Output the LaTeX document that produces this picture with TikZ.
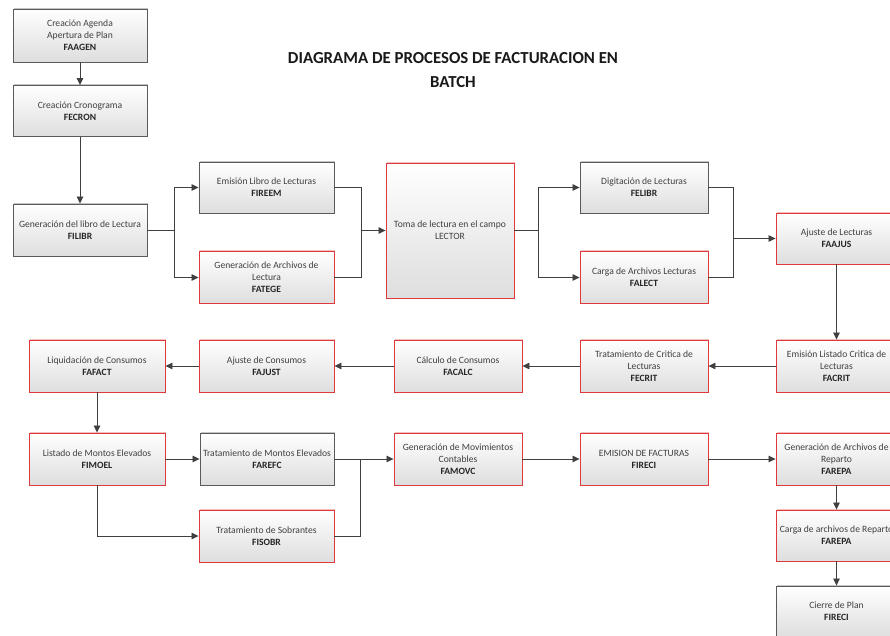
\documentclass[tikz,border=0pt]{standalone}
\usepackage{fontspec}
\setmainfont{Carlito}
\usetikzlibrary{arrows.meta,shadows}
\definecolor{boxgray}{HTML}{5A5A5A}
\definecolor{boxred}{HTML}{E0393C}
\definecolor{txtgray}{HTML}{404040}
\definecolor{linegray}{HTML}{404040}
\tikzset{
  procbox/.style={rectangle, draw, line width=0.9pt, inner sep=1pt,
    top color=white, bottom color=black!13,
    align=center, text=txtgray,
    font=\fontsize{9.6}{12}\selectfont},
  graybox/.style={procbox, draw=boxgray,
    drop shadow={shadow xshift=1.4pt, shadow yshift=1.4pt, fill=black!45, opacity=0.5}},
  redbox/.style={procbox, draw=boxred,
    drop shadow={shadow xshift=1.4pt, shadow yshift=1.4pt, fill=boxred!60, opacity=0.55}},
  link/.style={draw=linegray, line width=0.8pt},
  arr/.style={link, -{Triangle[length=7pt,width=6.5pt]}},
}
\newcommand{\code}[1]{\textbf{\color{black!85}#1}}
\begin{document}
\begin{tikzpicture}[x=1pt,y=-1pt]
\useasboundingbox (0,0) rectangle (890,635);
\clip (0,0) rectangle (890,635);
\fill[white] (0,0) rectangle (890,635);

% title
\node[font=\bfseries\fontsize{16.8}{24}\selectfont, text=black!90, align=center]
  (title) at (453,70) {DIAGRAMA DE PROCESOS DE FACTURACION EN\\BATCH};

% left column: planning
\node[graybox, minimum width=134, minimum height=53] (faagen) at (80,35.5)
  {Creación Agenda\\Apertura de Plan\\\code{FAAGEN}};
\node[graybox, minimum width=134, minimum height=51] (fecron) at (80,111)
  {Creación Cronograma\\\code{FECRON}};
\node[graybox, minimum width=134, minimum height=52] (filibr) at (80,230)
  {Generación del libro de Lectura\\\code{FILIBR}};

% reading stage
\node[graybox, minimum width=135, minimum height=51] (fireem) at (266.5,187.5)
  {Emisión Libro de Lecturas\\\code{FIREEM}};
\node[redbox, minimum width=135, minimum height=52] (fatege) at (266.5,277.5)
  {Generación de Archivos de\\Lectura\\\code{FATEGE}};
\node[redbox, minimum width=128, minimum height=135] (lector) at (450,230.5)
  {Toma de lectura en el campo\\LECTOR};
\node[graybox, minimum width=128, minimum height=51] (felibr) at (644,187.5)
  {Digitación de Lecturas\\\code{FELIBR}};
\node[redbox, minimum width=128, minimum height=52] (falect) at (644,277.5)
  {Carga de Archivos Lecturas\\\code{FALECT}};
\node[redbox, minimum width=121, minimum height=51] (faajus) at (836.5,238.5)
  {Ajuste de Lecturas\\\code{FAAJUS}};

% consumption row
\node[redbox, minimum width=136, minimum height=52] (fafact) at (97,366)
  {Liquidación de Consumos\\\code{FAFACT}};
\node[redbox, minimum width=135, minimum height=52] (fajust) at (266.5,366)
  {Ajuste de Consumos\\\code{FAJUST}};
\node[redbox, minimum width=128, minimum height=52] (facalc) at (458,366)
  {Cálculo de Consumos\\\code{FACALC}};
\node[redbox, minimum width=128, minimum height=52] (fecrit) at (644,366)
  {Tratamiento de Critica de\\Lecturas\\\code{FECRIT}};
\node[redbox, minimum width=121, minimum height=52] (facrit) at (836.5,366)
  {Emisión Listado Critica de\\Lecturas\\\code{FACRIT}};

% billing row
\node[redbox, minimum width=136, minimum height=52] (fimoel) at (97,459)
  {Listado de Montos Elevados\\\code{FIMOEL}};
\node[graybox, minimum width=134, minimum height=52] (farefc) at (267,459)
  {Tratamiento de Montos Elevados\\\code{FAREFC}};
\node[redbox, minimum width=135, minimum height=52] (fisobr) at (266.5,536)
  {Tratamiento de Sobrantes\\\code{FISOBR}};
\node[redbox, minimum width=128, minimum height=52] (famovc) at (458,459)
  {Generación de Movimientos\\Contables\\\code{FAMOVC}};
\node[redbox, minimum width=128, minimum height=52] (fireci) at (644,459)
  {EMISION DE FACTURAS\\\code{FIRECI}};
\node[redbox, minimum width=121, minimum height=52] (farepa) at (836.5,459)
  {Generación de Archivos de\\Reparto\\\code{FAREPA}};
\node[redbox, minimum width=121, minimum height=51] (cargarep) at (836.5,535.5)
  {Carga de archivos de Reparto\\\code{FAREPA}};
\node[graybox, minimum width=121, minimum height=51] (cierre) at (836.5,611.5)
  {Cierre de Plan\\\code{FIRECI}};

% junction points
\coordinate (s1) at (174,230);
\coordinate (j1) at (361,230.5);
\coordinate (s2) at (538,230.5);
\coordinate (j2) at (733,238.5);
\coordinate (j3) at (360,459);

% connectors
\draw[arr] (faagen) -- (fecron);
\draw[arr] (fecron) -- (filibr);
\draw[link] (filibr.east) -- (s1);
\draw[arr] (s1) |- (fireem.west);
\draw[arr] (s1) |- (fatege.west);
\draw[link] (fireem.east) -| (j1);
\draw[link] (fatege.east) -| (j1);
\draw[arr] (j1) -- (lector.west);
\draw[link] (lector.east) -- (s2);
\draw[arr] (s2) |- (felibr.west);
\draw[arr] (s2) |- (falect.west);
\draw[link] (felibr.east) -| (j2);
\draw[link] (falect.east) -| (j2);
\draw[arr] (j2) -- (faajus.west);
\draw[arr] (faajus) -- (facrit);
\draw[arr] (facrit) -- (fecrit);
\draw[arr] (fecrit) -- (facalc);
\draw[arr] (facalc) -- (fajust);
\draw[arr] (fajust) -- (fafact);
\draw[arr] (fafact) -- (fimoel);
\draw[arr] (fimoel) -- (farefc);
\draw[arr] (fimoel.south) |- (fisobr.west);
\draw[link] (farefc.east) -- (j3);
\draw[link] (fisobr.east) -| (j3);
\draw[arr] (j3) -- (famovc.west);
\draw[arr] (famovc) -- (fireci);
\draw[arr] (fireci) -- (farepa);
\draw[arr] (farepa) -- (cargarep);
\draw[arr] (cargarep) -- (cierre);
\end{tikzpicture}
\end{document}
